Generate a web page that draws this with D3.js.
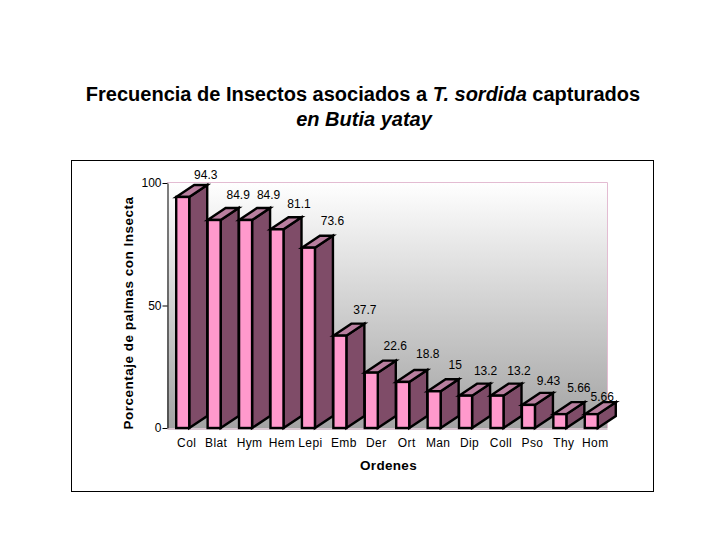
<!DOCTYPE html>
<html>
<head>
<meta charset="utf-8">
<script src="https://cdn.jsdelivr.net/npm/d3@7"></script>
<style>
  html, body { margin: 0; padding: 0; background: #fff; }
  svg { display: block; }
  text { font-family: "Liberation Sans", Arial, sans-serif; fill: #000; }
</style>
</head>
<body>
<svg id="chart" width="720" height="540"></svg>
<script>
const ordenes = ["Col", "Blat", "Hym", "Hem", "Lepi", "Emb", "Der", "Ort", "Man", "Dip", "Coll", "Pso", "Thy", "Hom"];
const porcentajes = [94.3, 84.9, 84.9, 81.1, 73.6, 37.7, 22.6, 18.8, 15, 13.2, 13.2, 9.43, 5.66, 5.66];
const yTicks = [0, 50, 100];

const svg = d3.select("#chart");
const depthX = 18, depthY = -12;

const x = d3.scaleBand().domain(ordenes).range([167, 607]).paddingInner(0.586).paddingOuter(0.293);
const y = d3.scaleLinear().domain([0, 100]).range([428, 183]);

const defs = svg.append("defs");
const grad = defs.append("linearGradient")
  .attr("id", "wall").attr("x1", 0).attr("y1", 0).attr("x2", 0).attr("y2", 1);
grad.append("stop").attr("offset", "0%").attr("stop-color", "#ffffff");
grad.append("stop").attr("offset", "100%").attr("stop-color", "#a3a3a3");

// outer frame
svg.append("rect")
  .attr("x", 71.5).attr("y", 160.5).attr("width", 582).attr("height", 331)
  .attr("fill", "#fff").attr("stroke", "#000");

// title
const title = svg.append("text")
  .attr("text-anchor", "middle")
  .style("font-size", "20px").style("font-weight", "bold");
const line1 = title.append("tspan").attr("x", 363).attr("y", 100.5);
line1.append("tspan").text("Frecuencia de Insectos asociados a ");
line1.append("tspan").style("font-style", "italic").text("T. sordida");
line1.append("tspan").text(" capturados");
title.append("tspan").attr("x", 364).attr("y", 125.5)
  .style("font-style", "italic").text("en Butia yatay");

// back wall
svg.append("rect")
  .attr("x", 167).attr("y", 182).attr("width", 440).attr("height", 246)
  .attr("fill", "url(#wall)");
svg.append("path")
  .attr("d", "M167,182.5H607.5V428")
  .attr("fill", "none").attr("stroke", "#e3bcd2");

// axes
const yAxis = svg.append("g").attr("transform", "translate(167.5,0)")
  .call(d3.axisLeft(y).tickValues(yTicks).tickSize(5).tickPadding(1).tickSizeOuter(0));
yAxis.selectAll("text").style("font-size", "12px");
yAxis.selectAll("path, line").attr("stroke", "#000");

const xAxis = svg.append("g").attr("transform", "translate(0,428.5)")
  .call(d3.axisBottom(x).tickSize(0).tickPadding(10));
xAxis.select(".domain").attr("stroke", "#b08ca0");
const tickNudge = [4, 2, 4, 5, 2, 4, 5, 4, 4, 4, 4, 4, 4, 4];
xAxis.selectAll("text")
  .attr("dx", (d, i) => tickNudge[i])
  .style("font-size", "12px")
  .style("letter-spacing", "0.4px");

// bars
const bars = svg.append("g").selectAll("g").data(ordenes).join("g");
const barW = x.bandwidth();

const line = d3.line();
bars.append("path") // side
  .attr("d", (d, i) => {
    const l = x(d) + barW, t = y(porcentajes[i]), b = y(0);
    return line([[l, b], [l, t], [l + depthX, t + depthY], [l + depthX, b + depthY]]) + "Z";
  })
  .attr("fill", "#7f4c68");
bars.append("path") // top
  .attr("d", (d, i) => {
    const l = x(d), t = y(porcentajes[i]);
    return line([[l, t], [l + depthX, t + depthY], [l + barW + depthX, t + depthY], [l + barW, t]]) + "Z";
  })
  .attr("fill", "#b97f9f");
bars.append("rect") // front
  .attr("x", d => x(d))
  .attr("y", (d, i) => y(porcentajes[i]))
  .attr("width", barW)
  .attr("height", (d, i) => y(0) - y(porcentajes[i]))
  .attr("fill", "#ff99cc");
bars.selectAll("path, rect")
  .attr("stroke", "#000").attr("stroke-width", 2.4).attr("stroke-linejoin", "miter");

// value labels sit above each bar, a few were hand placed in the original
const labelNudgeX = [0, 1, 0, -1, 1, 2, 1, 2, -2, -3, -1, -3, -4, -12];
const labelNudgeY = [3, 0, 0, 0, -2, -1, -2, -3, -1, 0, 0, 1, -1, 8];
svg.append("g").selectAll("text").data(ordenes).join("text")
  .attr("x", (d, i) => x(d) + barW / 2 + 23 + labelNudgeX[i])
  .attr("y", (d, i) => y(porcentajes[i]) - 21 + labelNudgeY[i])
  .attr("text-anchor", "middle")
  .style("font-size", "12px")
  .text((d, i) => porcentajes[i]);

// axis titles
svg.append("text")
  .attr("x", 388.5).attr("y", 470)
  .attr("text-anchor", "middle")
  .style("font-size", "13.5px").style("font-weight", "bold")
  .style("letter-spacing", "0.3px")
  .text("Ordenes");
svg.append("text")
  .attr("transform", "translate(133,313) rotate(-90)")
  .attr("text-anchor", "middle")
  .style("font-size", "13.5px").style("font-weight", "bold")
  .style("letter-spacing", "0.5px")
  .text("Porcentaje de palmas con Insecta");
</script>
</body>
</html>
